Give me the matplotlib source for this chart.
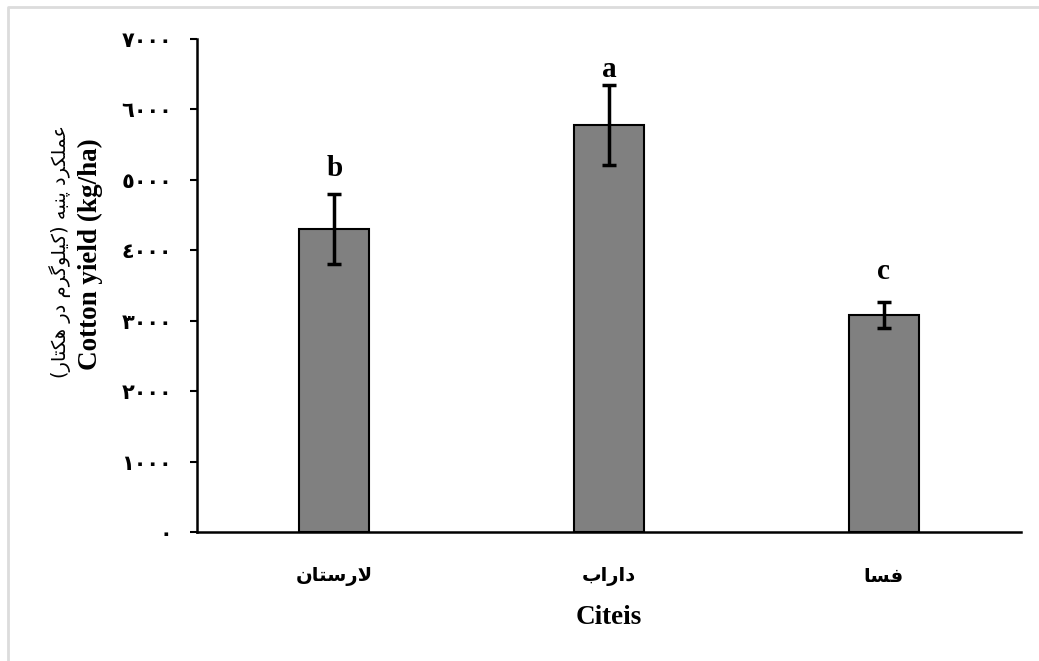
import matplotlib
matplotlib.use("Agg")
import matplotlib.pyplot as plt
from matplotlib.lines import Line2D
import numpy as np

# presentation forms: isolated, final, initial, medial
FORMS = {
    "ا": ("\uFE8D", "\uFE8E", None, None),
    "ب": ("\uFE8F", "\uFE90", "\uFE91", "\uFE92"),
    "پ": ("\uFB56", "\uFB57", "\uFB58", "\uFB59"),
    "ت": ("\uFE95", "\uFE96", "\uFE97", "\uFE98"),
    "د": ("\uFEA9", "\uFEAA", None, None),
    "ر": ("\uFEAD", "\uFEAE", None, None),
    "س": ("\uFEB1", "\uFEB2", "\uFEB3", "\uFEB4"),
    "ع": ("\uFEC9", "\uFECA", "\uFECB", "\uFECC"),
    "ف": ("\uFED1", "\uFED2", "\uFED3", "\uFED4"),
    "ک": ("\uFB8E", "\uFB8F", "\uFB90", "\uFB91"),
    "گ": ("\uFB92", "\uFB93", "\uFB94", "\uFB95"),
    "ل": ("\uFEDD", "\uFEDE", "\uFEDF", "\uFEE0"),
    "م": ("\uFEE1", "\uFEE2", "\uFEE3", "\uFEE4"),
    "ن": ("\uFEE5", "\uFEE6", "\uFEE7", "\uFEE8"),
    "ه": ("\uFEE9", "\uFEEA", "\uFEEB", "\uFEEC"),
    "و": ("\uFEED", "\uFEEE", None, None),
    "ی": ("\uFBFC", "\uFBFD", "\uFBFE", "\uFBFF"),
}
LAM_ALEF = ("\uFEFB", "\uFEFC")
MIRROR = {"(": ")", ")": "("}


def joins_next(c):
    return c in FORMS and FORMS[c][2] is not None


def farsi(text):
    # join letters by hand and flip to visual order (no shaping engine in agg)
    out = []
    i = 0
    n = len(text)
    while i < n:
        c = text[i]
        prev = text[i - 1] if i > 0 else ""
        if c not in FORMS:
            out.append(MIRROR.get(c, c))
            i += 1
            continue
        if c == "ل" and i + 1 < n and text[i + 1] == "ا":
            out.append(LAM_ALEF[1 if joins_next(prev) else 0])
            i += 2
            continue
        nxt = text[i + 1] if i + 1 < n else ""
        a = joins_next(prev)
        b = FORMS[c][2] is not None and nxt in FORMS
        idx = 3 if (a and b) else 1 if a else 2 if b else 0
        out.append(FORMS[c][idx])
        i += 1
    return "".join(reversed(out))


cities = ["لارستان", "داراب", "فسا"]
yield_mean = [4300, 5780, 3080]
yield_err = [495, 570, 180]
groups = ["b", "a", "c"]
letter_pad = [260, 110, 330]
yticks = [0, 1000, 2000, 3000, 4000, 5000, 6000, 7000]

arabic_digits = str.maketrans("0123456789", "٠١٢٣٤٥٦٧٨٩")
ytick_labels = [str(v).translate(arabic_digits) for v in yticks]

plt.rcParams["font.family"] = ["Liberation Serif", "DejaVu Sans"]

fig = plt.figure(figsize=(10.39, 6.61), dpi=100)
ax = fig.add_axes([0.1896, 0.1947, 0.7931, 0.7468])

x = np.arange(len(cities))
ax.bar(x, yield_mean, width=0.255, color="#808080", edgecolor="black",
       linewidth=1.5, zorder=2)
ax.errorbar(x, yield_mean, yerr=yield_err, fmt="none", ecolor="black",
            elinewidth=2.5, capsize=4.7, capthick=2.5, zorder=3)

for xi, m, e, g, p in zip(x, yield_mean, yield_err, groups, letter_pad):
    ax.text(xi, m + e + p, g, ha="center", va="baseline", fontsize=21,
            fontweight="bold")

ax.set_xlim(-0.5, 2.5)
ax.set_ylim(0, 7000)
ax.set_yticks(yticks)
ax.set_yticklabels(ytick_labels, family="DejaVu Sans", fontweight="bold",
                   fontsize=15)
ax.set_xticks(x)
ax.set_xticklabels([farsi(c) for c in cities], family="DejaVu Sans",
                   fontweight="bold", fontsize=14)
ax.tick_params(axis="y", length=5, width=1.5, pad=13)
ax.tick_params(axis="x", length=0, pad=25)

for side in ["top", "right"]:
    ax.spines[side].set_visible(False)
ax.spines["left"].set_linewidth(1.8)
ax.spines["bottom"].set_linewidth(1.8)

fig.text(609 / 1039, 1 - 618 / 661, "Citeis", ha="center", va="center",
         fontsize=19.5, fontweight="bold")
fig.text(90 / 1039, 1 - 254 / 661, "Cotton yield (kg/ha)", rotation=90,
         ha="center", va="center", fontsize=19.5, fontweight="bold")
fig.text(60 / 1039, 1 - 252 / 661, farsi("عملکرد پنبه (کیلوگرم در هکتار)"),
         rotation=90, ha="center", va="center", fontsize=14,
         family="DejaVu Sans")

# light frame along the top and left edges
fig.add_artist(Line2D([8 / 1039, 8 / 1039, 1.0], [0.0, 1 - 7 / 661, 1 - 7 / 661],
                      transform=fig.transFigure, color="#dcdcdc", linewidth=2))

fig.savefig("out.png", dpi=100)
